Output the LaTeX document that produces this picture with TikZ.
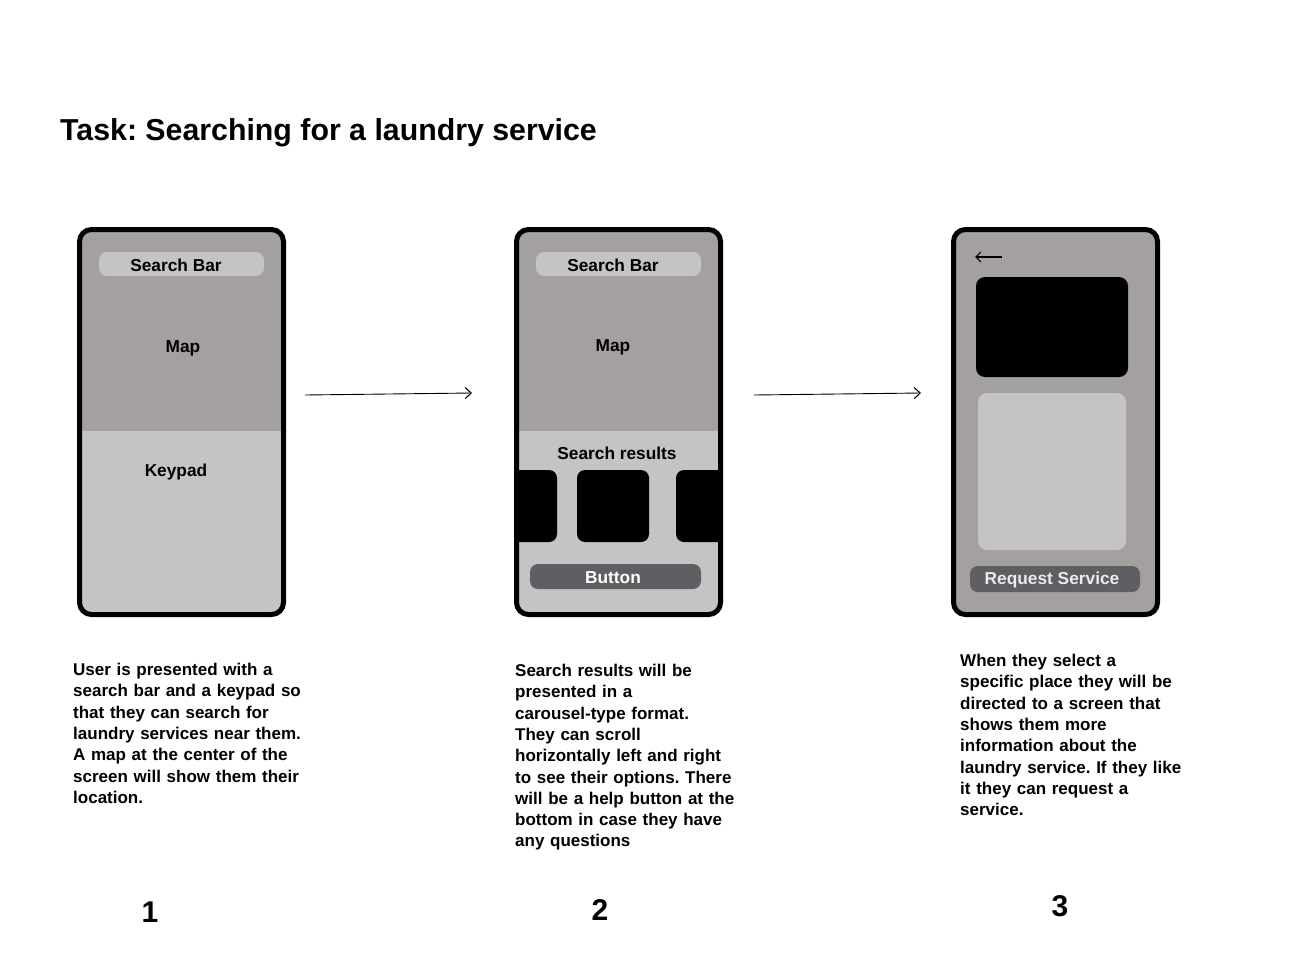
\documentclass[tikz,border=0pt]{standalone}
\usepackage{fontspec}
\setmainfont{Liberation Sans}
\usetikzlibrary{arrows.meta}
\frenchspacing
\definecolor{mapgray}{HTML}{A4A09F}
\definecolor{lightgray}{HTML}{C4C4C4}
\definecolor{btngray}{HTML}{5F5F63}
\tikzset{
  phone/.style={draw=black,line width=5pt,rounded corners=12pt},
  bar/.style={fill=lightgray,rounded corners=8pt},
  lbl/.style={font=\bfseries\fontsize{17.3}{20}\selectfont,inner sep=0pt},
  btn/.style={fill=btngray,rounded corners=8pt},
  desc/.style={font=\bfseries\fontsize{17}{21.3}\selectfont,align=left,anchor=north west,inner sep=0pt,text width=240pt},
  num/.style={font=\bfseries\fontsize{30}{36}\selectfont,inner sep=0pt},
  flow/.style={line width=0.9pt,-{Straight Barb[length=6pt,width=11pt,line width=1.1pt]}},
}
\begin{document}
\begin{tikzpicture}[x=1pt,y=-1pt]
\useasboundingbox (0,0) rectangle (1300,972);
\fill[white] (0,0) rectangle (1300,972);
% title
\node[anchor=west,inner sep=0pt,font=\bfseries\fontsize{30.3}{36}\selectfont] (title) at (60,133) {Task: Searching for a laundry service};

% ---------- phone 1
\begin{scope}
\clip[rounded corners=10pt] (79.5,229.5) rectangle (283.5,614.5);
\fill[mapgray] (77,227) rectangle (286,431);
\fill[lightgray] (77,431) rectangle (286,617);
\end{scope}
\draw[phone] (79.5,229.5) rectangle (283.5,614.5);
\fill[bar] (99,252) rectangle (264,276);
\node[lbl] (sb1) at (176,265) {Search Bar};
\node[lbl] (map1) at (183,348.5) {Map};
\node[lbl] (kp1) at (176,472.5) {Keypad};

% ---------- phone 2
\begin{scope}
\clip[rounded corners=10pt] (516.5,229.5) rectangle (720.5,614.5);
\fill[mapgray] (514,227) rectangle (723,431);
\fill[lightgray] (514,431) rectangle (723,617);
\fill[black,rounded corners=8pt] (500,470) rectangle (557,542);
\fill[black,rounded corners=8pt] (577,470) rectangle (649,542);
\fill[black,rounded corners=8pt] (676,470) rectangle (740,542);
\end{scope}
\draw[phone] (516.5,229.5) rectangle (720.5,614.5);
\fill[bar] (536,252) rectangle (701,276);
\node[lbl] (sb2) at (613,265) {Search Bar};
\node[lbl] (map2) at (613,347.5) {Map};
\node[lbl] (sr2) at (617,453) {Search results};
\fill[btn] (530,564) rectangle (701,589);
\node[lbl,text=white] (b2) at (613,578) {Button};

% ---------- phone 3
\fill[mapgray,rounded corners=10pt] (953.5,229.5) rectangle (1157.5,614.5);
\draw[phone] (953.5,229.5) rectangle (1157.5,614.5);
\coordinate (bk1) at (1002,257);
\coordinate (bk2) at (975,257);
\draw[line width=1.2pt,-{Straight Barb[length=5pt,width=10pt,line width=1.2pt]}] (bk1) -- (bk2);
\fill[black,rounded corners=9pt] (976,277) rectangle (1128,377);
\fill[lightgray,rounded corners=9pt] (978,393) rectangle (1126,550);
\fill[btn] (970,566) rectangle (1140,592);
\node[lbl,text=white!92!black] (b3) at (1052,580) {Request Service};

% ---------- flow arrows
\coordinate (a1s) at (305,395);
\coordinate (a1e) at (472,393);
\coordinate (a2s) at (754,395);
\coordinate (a2e) at (921,393);
\draw[flow] (a1s) -- (a1e);
\draw[flow] (a2s) -- (a2e);

% ---------- descriptions
\node[desc] (d1) at (73,663) {User is presented with a\\search bar and a keypad so\\that they can search for\\laundry services near them.\\A map at the center of the\\screen will show them their\\location.};
\node[desc] (d2) at (515,664) {Search results will be\\presented in a\\carousel-type format.\\They can scroll\\horizontally left and right\\to see their options. There\\will be a help button at the\\bottom in case they have\\any questions};
\node[desc] (d3) at (960,654) {When they select a\\specific place they will be\\directed to a screen that\\shows them more\\information about the\\laundry service. If they like\\it they can request a\\service.};

% ---------- numbers
\node[num] (n1) at (150,912) {1};
\node[num] (n2) at (600,910) {2};
\node[num] (n3) at (1060,906) {3};
\end{tikzpicture}
\end{document}
